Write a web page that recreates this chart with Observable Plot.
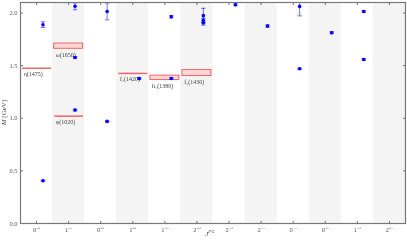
<!DOCTYPE html>
<html><head><meta charset="utf-8">
<script src="https://cdn.jsdelivr.net/npm/d3@7"></script>
<script src="https://cdn.jsdelivr.net/npm/@observablehq/plot@0.6"></script>
<style>body{margin:0;background:#fff} svg{will-change:transform}</style>
</head><body><div id="chart"></div>
<script>
// J^PC categories (keys) and their tick labels
const categories = ["0-+","1--","0++","1++","1+-","2++","2-+","2--","0--","0+-","1-+","2+-"];
const tickLabels = ["0⁻⁺","1⁻⁻","0⁺⁺","1⁺⁺","1⁺⁻","2⁺⁺","2⁻⁺","2⁻⁻","0⁻⁻","0⁺⁻","1⁻⁺","2⁺⁻"];
const yTicks = [0, 0.5, 1.0, 1.5, 2.0];

// lattice masses (GeV) with errors
const latticeJpc = ["0-+","0-+","1--","1--","1--","0++","0++","1++","1+-","1+-","2++","2++","2++","2-+","2--","0--","0--","0+-","1-+","1-+"];
const latticeMass = [1.889,0.406,2.064,1.578,1.078,2.015,0.970,1.378,1.965,1.378,1.975,1.930,1.905,2.079,1.876,2.063,1.471,1.813,2.015,1.559];
const latticeErr  = [0.027,0.005,0.033,0.008,0.008,0.080,0.005,0.008,0.012,0.008,0.070,0.020,0.020,0.010,0.012,0.090,0.006,0.010,0.008,0.008];

// experimental states: names, J^PC, mass low/high
const expName = ["η(1475)","φ(1020)","ω(1650)","f₁(1420)","h₁(1380)","f₂(1430)"];
const expJpc  = ["0-+","1--","1--","1++","1+-","2++"];
const expLow  = [1.475,1.020,1.660,1.426,1.363,1.401];
const expHigh = [1.475,1.020,1.710,1.426,1.405,1.458];

const idx = k => categories.indexOf(k) + 0.5;
const latt = latticeJpc.map((j,i)=>({x: idx(j)+0.2, m: latticeMass[i], e: latticeErr[i]}));
const exp = expName.map((n,i)=>({name:n, x: idx(expJpc[i]), lo: expLow[i], hi: expHigh[i]}));
const lines = exp.filter(d=>d.lo===d.hi);
const boxes = exp.filter(d=>d.lo!==d.hi);
const shaded = categories.map((c,i)=>({i})).filter(d=>d.i%2===1);
const centers = categories.map((c,i)=>i+0.5);

const red = "#f06464", blue = "#0000ff", axc = "#777";
const chart = Plot.plot({
  width: 407, height: 240,
  marginLeft: 20, marginRight: 2, marginTop: 2, marginBottom: 17,
  style: {fontFamily: "'Liberation Serif', serif", fontSize: "6.5px", color: "#555", background: "#fff"},
  x: {domain: [0, 12], ticks: centers, tickFormat: d => tickLabels[Math.floor(d)], tickSize: 0, tickPadding: 4, label: null},
  y: {domain: [0, 2.1], ticks: yTicks, tickFormat: d => d.toFixed(1), tickSize: 0, tickPadding: 3, label: null},
  marks: [
    Plot.rect(shaded, {x1: d=>d.i, x2: d=>d.i+1, y1: 0, y2: 2.1, fill: "#f4f4f4"}),
    Plot.rect(boxes, {x1: d=>d.x-0.45, x2: d=>d.x+0.45, y1: "lo", y2: "hi", fill: "#ffd6d6", stroke: red, strokeWidth: 1}),
    Plot.link(lines, {x1: d=>d.x-0.45, x2: d=>d.x+0.45, y1: "lo", y2: "lo", stroke: red, strokeWidth: 1.5}),
    Plot.text(exp, {x: d=>d.x-0.4, y: "lo", text: "name", dy: 6, textAnchor: "start", fontSize: 6, fill: "#444"}),
    Plot.ruleX(latt, {x: "x", y1: d=>d.m-d.e, y2: d=>d.m+d.e, stroke: blue, strokeWidth: 0.8, strokeOpacity: 0.7, clip: true}),
    Plot.link(latt, {x1: d=>d.x-0.07, x2: d=>d.x+0.07, y1: d=>d.m+d.e, y2: d=>d.m+d.e, stroke: blue, strokeWidth: 0.8, strokeOpacity: 0.7, clip: true}),
    Plot.link(latt, {x1: d=>d.x-0.07, x2: d=>d.x+0.07, y1: d=>d.m-d.e, y2: d=>d.m-d.e, stroke: blue, strokeWidth: 0.8, strokeOpacity: 0.7, clip: true}),
    Plot.dot(latt, {x: "x", y: "m", r: 1.8, fill: blue, stroke: "none"}),
    // inward ticks
    Plot.link(yTicks, {x1: 0, x2: 0.08, y1: d=>d, y2: d=>d, stroke: axc}),
    Plot.link(yTicks, {x1: 12, x2: 11.92, y1: d=>d, y2: d=>d, stroke: axc}),
    Plot.link(centers, {x1: d=>d, x2: d=>d, y1: 0, y2: 0.025, stroke: axc}),
    Plot.link(centers, {x1: d=>d, x2: d=>d, y1: 2.1, y2: 2.075, stroke: axc}),
    Plot.frame({stroke: axc, strokeWidth: 1.2})
  ]
});
const svg = d3.select(chart);
// axis labels with super/subscripts
const yl = svg.append("text").attr("transform","translate(6,112.5) rotate(-90)")
  .attr("text-anchor","middle").attr("font-size","7px").attr("fill","#444");
yl.append("tspan").attr("font-style","italic").text("M");
yl.append("tspan").text(" [GeV]");
const xl = svg.append("text").attr("x",210).attr("y",236)
  .attr("text-anchor","middle").attr("font-size","7px").attr("fill","#444");
xl.append("tspan").attr("font-style","italic").text("J");
xl.append("tspan").attr("font-style","italic").attr("font-size","5px").attr("dy","-3").text("PC");
document.getElementById("chart").append(chart);
</script>
</body></html>
